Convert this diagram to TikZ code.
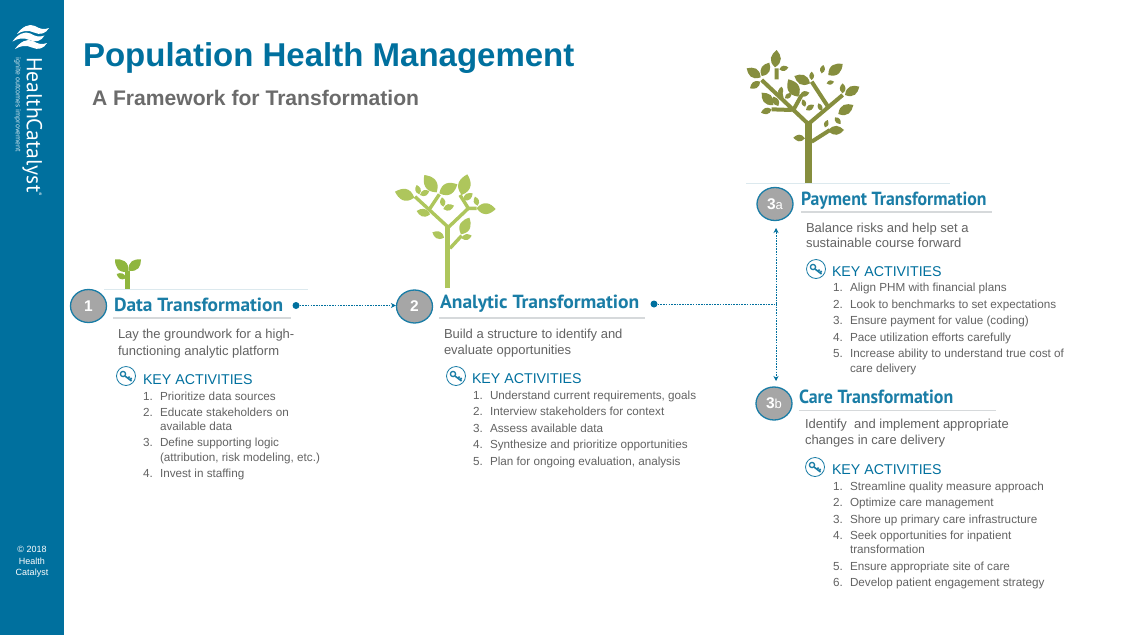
\documentclass[tikz,border=0pt]{standalone}
\usepackage{fontspec}
\setmainfont{Liberation Sans}
\newfontfamily\headfont{PT Sans}
\newfontfamily\logofont{PT Sans}
\usetikzlibrary{calc,arrows.meta,shapes.geometric}
\definecolor{hcblue}{HTML}{00709E}
\definecolor{headblue}{HTML}{1A7DA6}
\definecolor{bodygray}{HTML}{636363}
\definecolor{subgray}{HTML}{6B6B6B}
\definecolor{circgray}{HTML}{A6A6A6}
\definecolor{ruleg}{HTML}{D6D9DB}
\definecolor{rulel}{HTML}{DCE9EE}
\definecolor{treeA}{HTML}{8FB63E}
\definecolor{treeB}{HTML}{AEC65C}
\definecolor{treeC}{HTML}{868E3E}
\newcommand{\fsz}[1]{\fontsize{#1}{#1}\selectfont}
\tikzset{
  txt/.style={anchor=base west,inner sep=0pt,outer sep=0pt},
  desc/.style={txt,text=bodygray,font=\fsz{13}},
  item/.style={txt,text=bodygray,font=\fsz{11.7}},
  keyact/.style={txt,text=hcblue,font=\fsz{14.2}},
  headt/.style={txt,text=headblue,font=\headfont\bfseries\fsz{19}},
  numc/.style={ellipse,draw=headblue,line width=1.3pt,fill=circgray,minimum width=36pt,minimum height=33pt,inner sep=0pt,text=white,font=\bfseries\fsz{15.5}},
  dotn/.style={circle,fill=hcblue,minimum size=7pt,inner sep=0pt},
  conn/.style={draw=hcblue,line width=0.6pt,dash pattern=on 1.6pt off 1.1pt},
  arr/.style={-{Stealth[length=5pt,width=5pt]}},
  hrule/.style={draw=ruleg,line width=1.1pt},
  lrule/.style={draw=rulel,line width=0.8pt},
  keyc/.style={circle,draw=headblue,line width=0.8pt,fill=white,minimum size=19pt,inner sep=0pt},
  sidetxt/.style={text=white,font=\fsz{9},align=center},
}
\def\leafaux#1,#2,#3,#4\relax{\fill (#1,#2)
 .. controls ({#1+.35*(#3-#1)-.46*(#4-#2)},{#2+.35*(#4-#2)+.46*(#3-#1)}) and ({#1+.72*(#3-#1)-.30*(#4-#2)},{#2+.72*(#4-#2)+.30*(#3-#1)}) .. (#3,#4)
 .. controls ({#1+.72*(#3-#1)+.30*(#4-#2)},{#2+.72*(#4-#2)-.30*(#3-#1)}) and ({#1+.35*(#3-#1)+.46*(#4-#2)},{#2+.35*(#4-#2)-.46*(#3-#1)}) .. (#1,#2) -- cycle;}
\newcommand{\leaf}[2]{\leafaux#1,#2\relax}
\newcommand{\li}[5]{\node[item] (#1) at (#2,#3) {\makebox[17pt][l]{#4}#5};}
\newcommand{\keyicon}[3]{
  \node[keyc] (#1) at (#2,#3) {};
  \begin{scope}[shift={(#2,#3)}]
    \draw[headblue,line width=1.3pt] (-3,-2) circle (2.6);
    \draw[headblue,line width=1.6pt] (-1,0) -- (5.5,5) (2,2.4) -- (3.6,0.6) (4,3.8) -- (5.6,2);
  \end{scope}}
\newcommand{\wave}[2]{\fill[white,shift={(#1,#2)}] (17,34) .. controls (22,27) and (29,23) .. (35,26) .. controls (40,29) and (44,30) .. (49,28) .. controls (46,33.5) and (40,35.5) .. (34,32.5) .. controls (28,29.5) and (22,31) .. (17,34) -- cycle;}
\begin{document}
\begin{tikzpicture}[x=1pt,y=-1pt]
\useasboundingbox (0,0) rectangle (1129,635);
\fill[white] (0,0) rectangle (1129,635);
\fill[hcblue] (0,0) rectangle (64,635);

% logo
\wave{0}{0}\wave{-4.5}{7.5}\wave{-2}{15}
\node[inner sep=0pt,rotate=-90,anchor=base west,text=white,font=\logofont\fsz{21.6}] (logo) at (27,57) {HealthCatalyst};
\node[inner sep=0pt,rotate=-90,anchor=base west,text=white,font=\logofont\fsz{5}] (reg) at (38,192.5) {®};
\node[inner sep=0pt,rotate=-90,anchor=base west,text=white!85!hcblue,font=\logofont\fsz{7.4}] (tag) at (16,57) {ignite outcomes improvement};
\node[sidetxt] (copy1) at (32,549) {© 2018};
\node[sidetxt] (copy2) at (32,561) {Health};
\node[sidetxt] (copy3) at (32,573) {Catalyst};

% title
\node[txt,text=hcblue,font=\bfseries\fsz{33}] (title) at (83,66) {Population Health Management};
\node[txt,text=subgray,font=\bfseries\fsz{21.1}] (subtitle) at (92,105) {A Framework for Transformation};

% trees
\begin{scope}[shift={(60,250)},scale=1/3,treeA,fill=treeA]
  \draw[line width=5pt] (203,118) -- (203,62);
  \leaf{205,65}{165,28}\leaf{206,62}{243,28}\leaf{198,85}{170,72}
\end{scope}
\begin{scope}[shift={(380,165)},scale=1/3,treeB,fill=treeB]
  \draw[line width=5pt] (203,370) -- (203,185);
  \draw[line width=3.4pt] (205,187) -- (105,95) (205,187) -- (265,130) -- (240,90) (265,130) -- (290,130) (150,130) -- (178,88) (210,250) -- (245,212) ;
  \leaf{103,98}{45,80}\leaf{118,88}{110,60}\leaf{120,90}{148,78}\leaf{170,82}{133,30}\leaf{178,85}{232,58}
  \leaf{190,125}{186,97}\leaf{190,132}{222,122}\leaf{150,148}{110,138}\leaf{245,90}{262,28}\leaf{250,105}{278,85}
  \leaf{293,122}{285,95}\leaf{290,130}{347,132}\leaf{243,208}{268,158}\leaf{245,220}{275,212}\leaf{192,218}{157,202}
\end{scope}
\begin{scope}[shift={(730,40)},scale=1/3,treeC,fill=treeC]
  \draw[line width=7.5pt] (235,430) -- (235,245);
  \draw[line width=4pt] (235,252) -- (95,120) (235,252) -- (338,165) (292,197) -- (245,125) (140,118) -- (140,85) (190,210) -- (215,165) (185,210) -- (125,208) (245,305) -- (300,270) (155,175) -- (150,150);
  \leaf{92,112}{50,85}\leaf{90,125}{60,145}\leaf{95,108}{118,68}\leaf{135,82}{140,30}\leaf{148,88}{175,82}
  \leaf{130,195}{95,158}\leaf{145,198}{130,170}\leaf{125,208}{93,218}\leaf{150,165}{155,140}\leaf{165,175}{185,160}
  \leaf{205,170}{175,118}\leaf{210,165}{238,158}\leaf{240,130}{193,108}\leaf{245,120}{245,95}\leaf{275,100}{280,75}
  \leaf{295,105}{338,72}\leaf{290,130}{312,125}\leaf{338,160}{338,130}\leaf{345,165}{388,140}\leaf{225,200}{218,178}
  \leaf{228,210}{252,195}\leaf{275,212}{265,190}\leaf{325,222}{370,195}\leaf{315,232}{332,252}\leaf{285,262}{293,240}
  \leaf{295,272}{342,270}\leaf{225,295}{190,293}
\end{scope}

% rules
\draw[lrule] (104,289.5) -- (308,289.5);
\draw[lrule] (746,183.5) -- (950,183.5);
\draw[hrule] (113,318) -- (291,318);
\draw[hrule] (439,318) -- (645,318);
\draw[hrule] (801,212) -- (992,212);
\draw[hrule] (799,410.5) -- (996,410.5);

% circles
\node[numc] (c1) at (88.5,306) {1};
\node[numc] (c2) at (414.5,306.5) {2};
\node[numc] (c3a) at (775,204) {3{\mdseries\fsz{13}a}};
\node[numc] (c3b) at (774,403.5) {3{\mdseries\fsz{13}b}};

% headings
\node[headt] (h1) at (114,311) {\scalebox{1.02}[1]{Data Transformation}};
\node[headt] (h2) at (440,308.5) {\scalebox{1.03}[1]{Analytic Transformation}};
\node[headt] (h3a) at (801,205) {\scalebox{.934}[1]{Payment Transformation}};
\node[headt] (h3b) at (799,403) {\scalebox{.94}[1]{Care Transformation}};

% connectors
\node[dotn] (d1) at (296,305.5) {};
\node[dotn] (d2) at (654,304) {};
\coordinate (j) at (776,304);
\coordinate (up) at (776,228);
\coordinate (dn) at (776,381);
\draw[conn,arr] (d1) -- (d1 -| c2.west);
\draw[conn] (d2) -- (j);
\draw[conn,arr] (j) -- (up);
\draw[conn,arr] (j) -- (dn);

% panel 1
\node[desc] (p1a) at (118,338) {Lay the groundwork for a high-};
\node[desc] (p1b) at (118,355) {functioning analytic platform};
\keyicon{k1}{126}{376}
\node[keyact] (ka1) at (143,384) {KEY ACTIVITIES};
\li{a1}{143}{400}{1.}{Prioritize data sources}
\li{a2}{143}{416}{2.}{Educate stakeholders on}
\li{a2b}{143}{430}{}{available data}
\li{a3}{143}{446}{3.}{Define supporting logic}
\li{a3b}{143}{461}{}{(attribution, risk modeling, etc.)}
\li{a4}{143}{477}{4.}{Invest in staffing}

% panel 2
\node[desc] (p2a) at (444,338) {Build a structure to identify and};
\node[desc] (p2b) at (444,354) {evaluate opportunities};
\keyicon{k2}{456}{376}
\node[keyact] (ka2) at (472,383) {KEY ACTIVITIES};
\li{b1}{473}{399}{1.}{Understand current requirements, goals}
\li{b2}{473}{415}{2.}{Interview stakeholders for context}
\li{b3}{473}{432}{3.}{Assess available data}
\li{b4}{473}{448}{4.}{Synthesize and prioritize opportunities}
\li{b5}{473}{465}{5.}{Plan for ongoing evaluation, analysis}

% panel 3a
\node[desc] (p3a) at (806,232) {Balance risks and help set a};
\node[desc] (p3b) at (806,247) {sustainable course forward};
\keyicon{k3}{816}{269}
\node[keyact] (ka3) at (832,276) {KEY ACTIVITIES};
\li{c1i}{833}{291}{1.}{Align PHM with financial plans}
\li{c2i}{833}{308}{2.}{Look to benchmarks to set expectations}
\li{c3i}{833}{324}{3.}{Ensure payment for value (coding)}
\li{c4i}{833}{341}{4.}{Pace utilization efforts carefully}
\li{c5i}{833}{357}{5.}{Increase ability to understand true cost of}
\li{c5b}{833}{372}{}{care delivery}

% panel 3b
\node[desc] (q3a) at (805,428) {Identify \ and implement appropriate};
\node[desc] (q3b) at (805,444) {changes in care delivery};
\keyicon{k4}{815}{467}
\node[keyact] (ka4) at (832,474) {KEY ACTIVITIES};
\li{d1i}{833}{490}{1.}{Streamline quality measure approach}
\li{d2i}{833}{506}{2.}{Optimize care management}
\li{d3i}{833}{523}{3.}{Shore up primary care infrastructure}
\li{d4i}{833}{539}{4.}{Seek opportunities for inpatient}
\li{d4b}{833}{553}{}{transformation}
\li{d5i}{833}{570}{5.}{Ensure appropriate site of care}
\li{d6i}{833}{586}{6.}{Develop patient engagement strategy}
\end{tikzpicture}
\end{document}
